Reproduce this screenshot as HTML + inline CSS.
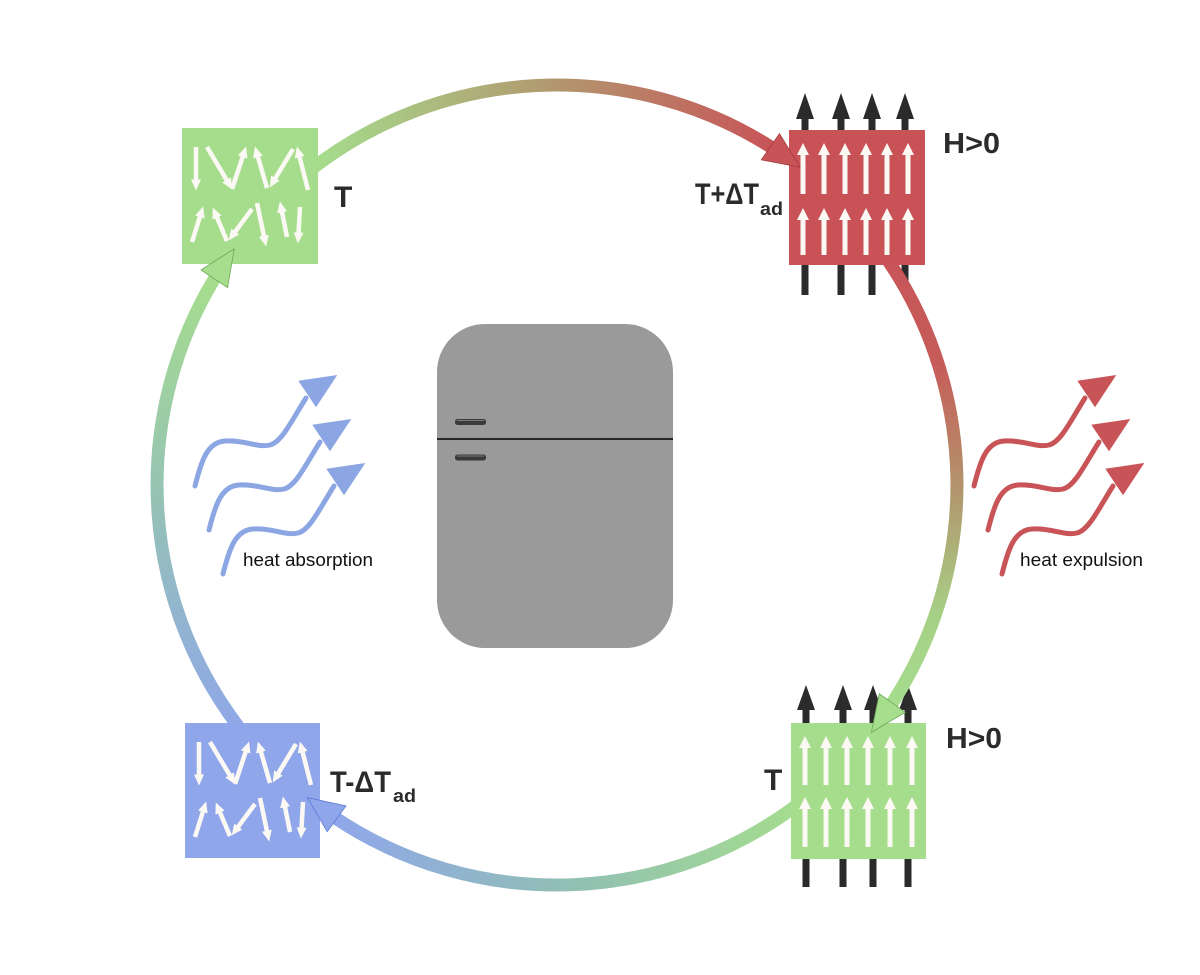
<!DOCTYPE html>
<html>
<head>
<meta charset="utf-8">
<style>
  html,body{margin:0;padding:0;background:#ffffff;}
  svg{display:block;}
  text{font-family:"Liberation Sans",Arial,sans-serif;}
</style>
</head>
<body>
<svg width="1200" height="975" viewBox="0 0 1200 975" xmlns="http://www.w3.org/2000/svg">
  <defs>
    <linearGradient id="gTop" gradientUnits="userSpaceOnUse" x1="315" y1="0" x2="775" y2="0">
      <stop offset="0" stop-color="#a5dd8d"/>
      <stop offset="0.5" stop-color="#b19a6f"/>
      <stop offset="1" stop-color="#c85458"/>
    </linearGradient>
    <linearGradient id="gRight" gradientUnits="userSpaceOnUse" x1="0" y1="250" x2="0" y2="705">
      <stop offset="0" stop-color="#c85458"/>
      <stop offset="0.25" stop-color="#c65c59"/>
      <stop offset="0.52" stop-color="#b3946c"/>
      <stop offset="0.8" stop-color="#a6cf86"/>
      <stop offset="1" stop-color="#a5dd8d"/>
    </linearGradient>
    <linearGradient id="gBottom" gradientUnits="userSpaceOnUse" x1="803" y1="0" x2="336" y2="0">
      <stop offset="0" stop-color="#a5dd8d"/>
      <stop offset="0.5" stop-color="#91bfb4"/>
      <stop offset="1" stop-color="#8fa7ea"/>
    </linearGradient>
    <linearGradient id="gLeft" gradientUnits="userSpaceOnUse" x1="0" y1="737" x2="0" y2="279">
      <stop offset="0" stop-color="#8fa7ea"/>
      <stop offset="0.5" stop-color="#95c1b6"/>
      <stop offset="1" stop-color="#a5dd8d"/>
    </linearGradient>
    <marker id="wa" markerUnits="userSpaceOnUse" markerWidth="11" markerHeight="11" viewBox="0 0 11 11" refX="4.5" refY="5.5" orient="auto">
      <path d="M0,0.5 L11,5.5 L0,10.5 Z" fill="#fcf9f5"/>
    </marker>
    <marker id="wb" markerUnits="userSpaceOnUse" markerWidth="12" markerHeight="12" viewBox="0 0 12 12" refX="5" refY="6" orient="auto">
      <path d="M0,0 L12,6 L0,12 Z" fill="#fcf9f5"/>
    </marker>
  </defs>

  <rect x="0" y="0" width="1200" height="975" fill="#ffffff"/>

  <!-- Fridge -->
  <rect x="437" y="324" width="236" height="324" rx="48" ry="48" fill="#9a9a9a"/>
  <line x1="437" y1="439" x2="673" y2="439" stroke="#262626" stroke-width="2"/>
  <rect x="455" y="419" width="31" height="6" rx="2.5" fill="#3a3a3a"/>
  <line x1="457" y1="420.5" x2="484" y2="420.5" stroke="#7a7a7a" stroke-width="1"/>
  <rect x="455" y="454.5" width="31" height="6" rx="2.5" fill="#3a3a3a"/>
  <line x1="457" y1="456" x2="484" y2="456" stroke="#7a7a7a" stroke-width="1"/>

  <!-- Blue heat waves -->
  <g>
    <path d="M195,486 C201,462 207,442 225,441 C245,440 258,448 270,445 C282,442 292,420 306,398" fill="none" stroke="#8ba6e2" stroke-width="5" stroke-linecap="round"/>
    <polygon points="298.3,380.7 337.3,375 316,407.3" fill="#8ba6e2"/>
  </g>
  <g transform="translate(14,44)">
    <path d="M195,486 C201,462 207,442 225,441 C245,440 258,448 270,445 C282,442 292,420 306,398" fill="none" stroke="#8ba6e2" stroke-width="5" stroke-linecap="round"/>
    <polygon points="298.3,380.7 337.3,375 316,407.3" fill="#8ba6e2"/>
  </g>
  <g transform="translate(28,88)">
    <path d="M195,486 C201,462 207,442 225,441 C245,440 258,448 270,445 C282,442 292,420 306,398" fill="none" stroke="#8ba6e2" stroke-width="5" stroke-linecap="round"/>
    <polygon points="298.3,380.7 337.3,375 316,407.3" fill="#8ba6e2"/>
  </g>
  <text x="243" y="566" font-size="18" fill="#111" textLength="130" lengthAdjust="spacingAndGlyphs">heat absorption</text>

  <!-- Red heat waves -->
  <g transform="translate(779,0)">
    <path d="M195,486 C201,462 207,442 225,441 C245,440 258,448 270,445 C282,442 292,420 306,398" fill="none" stroke="#c85458" stroke-width="5" stroke-linecap="round"/>
    <polygon points="298.3,380.7 337.3,375 316,407.3" fill="#c85458"/>
  </g>
  <g transform="translate(793,44)">
    <path d="M195,486 C201,462 207,442 225,441 C245,440 258,448 270,445 C282,442 292,420 306,398" fill="none" stroke="#c85458" stroke-width="5" stroke-linecap="round"/>
    <polygon points="298.3,380.7 337.3,375 316,407.3" fill="#c85458"/>
  </g>
  <g transform="translate(807,88)">
    <path d="M195,486 C201,462 207,442 225,441 C245,440 258,448 270,445 C282,442 292,420 306,398" fill="none" stroke="#c85458" stroke-width="5" stroke-linecap="round"/>
    <polygon points="298.3,380.7 337.3,375 316,407.3" fill="#c85458"/>
  </g>
  <text x="1020" y="566" font-size="18" fill="#111" textLength="123" lengthAdjust="spacingAndGlyphs">heat expulsion</text>

  <!-- Black field arrows: red box -->
  <g fill="#2b2b2b">
    <polygon points="805,93 814,119 796,119"/><rect x="801.5" y="118" width="7" height="13"/><rect x="801.5" y="264" width="7" height="31"/>
    <polygon points="841,93 850,119 832,119"/><rect x="837.5" y="118" width="7" height="13"/><rect x="837.5" y="264" width="7" height="31"/>
    <polygon points="872,93 881,119 863,119"/><rect x="868.5" y="118" width="7" height="13"/><rect x="868.5" y="264" width="7" height="31"/>
    <polygon points="905,93 914,119 896,119"/><rect x="901.5" y="118" width="7" height="13"/><rect x="901.5" y="264" width="7" height="31"/>
  </g>
  <!-- Black field arrows: green bottom-right box -->
  <g fill="#2b2b2b">
    <polygon points="806,685 815,710 797,710"/><rect x="802.5" y="709" width="7" height="15"/><rect x="802.5" y="858" width="7" height="29"/>
    <polygon points="843,685 852,710 834,710"/><rect x="839.5" y="709" width="7" height="15"/><rect x="839.5" y="858" width="7" height="29"/>
    <polygon points="873,685 882,710 864,710"/><rect x="869.5" y="709" width="7" height="15"/><rect x="869.5" y="858" width="7" height="29"/>
    <polygon points="908,685 917,710 899,710"/><rect x="904.5" y="709" width="7" height="15"/><rect x="904.5" y="858" width="7" height="29"/>
  </g>

  <!-- Cycle arcs -->
  <path d="M310.7,169.8 A400,400 0 0 1 770.4,146.7" fill="none" stroke="url(#gTop)" stroke-width="13"/>
  <path d="M880.6,249.9 A400,400 0 0 1 892.3,703.0" fill="none" stroke="url(#gRight)" stroke-width="13"/>
  <path d="M803.3,800.2 A400,400 0 0 1 336.6,818.8" fill="none" stroke="url(#gBottom)" stroke-width="13"/>
  <path d="M246.2,736.7 A400,400 0 0 1 214.3,278.8" fill="none" stroke="url(#gLeft)" stroke-width="13"/>

  <!-- Top-left green box -->
  <rect x="182" y="128" width="136" height="136" fill="#a5dd8d"/>
  <g stroke="#fcf9f5" stroke-width="4.5" fill="none" marker-end="url(#wa)">
    <line x1="196" y1="147" x2="196" y2="184"/>
    <line x1="207" y1="147" x2="228.9" y2="183.8"/>
    <line x1="232" y1="189" x2="244.1" y2="152.7"/>
    <line x1="267" y1="188" x2="256.7" y2="152.8"/>
    <line x1="293" y1="149" x2="273.1" y2="181.9"/>
    <line x1="308" y1="190" x2="298.5" y2="152.8"/>
    <line x1="192" y1="242" x2="201.2" y2="212.7"/>
    <line x1="227" y1="241" x2="215.3" y2="213.5"/>
    <line x1="252" y1="209" x2="232.6" y2="235.2"/>
    <line x1="257" y1="203" x2="264.8" y2="240.1"/>
    <line x1="287" y1="237" x2="281.2" y2="207.9"/>
    <line x1="300" y1="207" x2="298.3" y2="237"/>
  </g>

  <!-- Blue box -->
  <rect x="185" y="723" width="135" height="135" fill="#8fa7ea"/>
  <g stroke="#fcf9f5" stroke-width="4.5" fill="none" marker-end="url(#wa)">
    <line x1="199" y1="742" x2="199" y2="779"/>
    <line x1="210" y1="742" x2="231.9" y2="778.8"/>
    <line x1="235" y1="784" x2="247.1" y2="747.7"/>
    <line x1="270" y1="783" x2="259.7" y2="747.8"/>
    <line x1="296" y1="744" x2="276.1" y2="776.9"/>
    <line x1="311" y1="785" x2="301.5" y2="747.8"/>
    <line x1="195" y1="837" x2="204.2" y2="807.7"/>
    <line x1="230" y1="836" x2="218.3" y2="808.5"/>
    <line x1="255" y1="804" x2="235.6" y2="830.2"/>
    <line x1="260" y1="798" x2="267.8" y2="835.1"/>
    <line x1="290" y1="832" x2="284.2" y2="802.9"/>
    <line x1="303" y1="802" x2="301.3" y2="832"/>
  </g>

  <!-- Red box -->
  <rect x="789" y="130" width="136" height="135" fill="#c85256"/>
  <g stroke="#fcf9f5" stroke-width="5" fill="none" marker-end="url(#wb)">
    <line x1="803" y1="194" x2="803" y2="150"/>
    <line x1="824" y1="194" x2="824" y2="150"/>
    <line x1="845" y1="194" x2="845" y2="150"/>
    <line x1="866" y1="194" x2="866" y2="150"/>
    <line x1="887" y1="194" x2="887" y2="150"/>
    <line x1="908" y1="194" x2="908" y2="150"/>
    <line x1="803" y1="255" x2="803" y2="215"/>
    <line x1="824" y1="255" x2="824" y2="215"/>
    <line x1="845" y1="255" x2="845" y2="215"/>
    <line x1="866" y1="255" x2="866" y2="215"/>
    <line x1="887" y1="255" x2="887" y2="215"/>
    <line x1="908" y1="255" x2="908" y2="215"/>
  </g>

  <!-- Bottom-right green box -->
  <rect x="791" y="723" width="135" height="136" fill="#a5dd8d"/>
  <g stroke="#fcf9f5" stroke-width="5" fill="none" marker-end="url(#wb)">
    <line x1="805" y1="785" x2="805" y2="743"/>
    <line x1="826" y1="785" x2="826" y2="743"/>
    <line x1="847" y1="785" x2="847" y2="743"/>
    <line x1="868" y1="785" x2="868" y2="743"/>
    <line x1="890" y1="785" x2="890" y2="743"/>
    <line x1="912" y1="785" x2="912" y2="743"/>
    <line x1="805" y1="847" x2="805" y2="804"/>
    <line x1="826" y1="847" x2="826" y2="804"/>
    <line x1="847" y1="847" x2="847" y2="804"/>
    <line x1="868" y1="847" x2="868" y2="804"/>
    <line x1="890" y1="847" x2="890" y2="804"/>
    <line x1="912" y1="847" x2="912" y2="804"/>
  </g>

  <!-- Arrowheads -->
  <polygon points="761.3,159.8 800,167.2 779.5,133.6" fill="#c85458" stroke="#a63c40" stroke-width="0.8"/>
  <polygon points="879.3,693.7 871.4,732.4 905.3,712.3" fill="#a6de8e" stroke="#6aa858" stroke-width="0.8"/>
  <polygon points="346.0,805.9 307.4,797.6 327.2,831.7" fill="#8fa7ea" stroke="#5a78d8" stroke-width="0.8"/>
  <polygon points="227.6,287.6 234.2,248.8 201.0,270.0" fill="#a6de8e" stroke="#6aa858" stroke-width="0.8"/>

  <!-- Labels -->
  <g fill="#2b2b2b" font-weight="bold">
    <text x="334" y="207" font-size="30">T</text>
    <text x="695" y="204" font-size="30" textLength="64" lengthAdjust="spacingAndGlyphs">T+ΔT</text>
    <text x="760" y="215" font-size="18" textLength="23" lengthAdjust="spacingAndGlyphs">ad</text>
    <text x="943" y="153" font-size="29" textLength="57" lengthAdjust="spacingAndGlyphs">H&gt;0</text>
    <text x="330" y="792" font-size="30" textLength="61" lengthAdjust="spacingAndGlyphs">T-ΔT</text>
    <text x="393" y="802" font-size="18" textLength="23" lengthAdjust="spacingAndGlyphs">ad</text>
    <text x="764" y="790" font-size="30">T</text>
    <text x="946" y="748" font-size="29" textLength="56" lengthAdjust="spacingAndGlyphs">H&gt;0</text>
  </g>
</svg>
</body>
</html>
